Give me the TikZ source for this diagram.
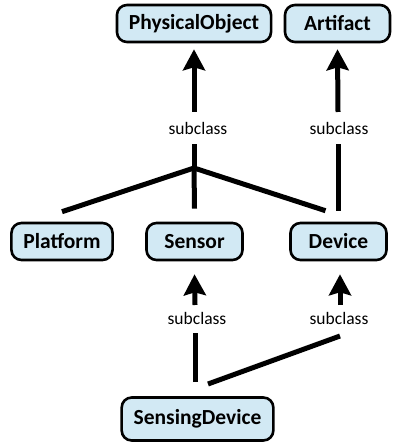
\documentclass[tikz,border=0pt]{standalone}
\usepackage{fontspec}
\setmainfont{Carlito}
\usetikzlibrary{arrows.meta,calc}
\definecolor{boxfill}{HTML}{D2E9F4}
\tikzset{
  cls/.style={draw=black, line width=2.6pt, fill=boxfill, rounded corners=10pt,
    font=\fontsize{21.5}{25}\selectfont\bfseries, inner xsep=12pt, inner ysep=0pt,
    minimum height=37pt, minimum width=96pt},
  rel/.style={font=\fontsize{17.5}{20}\selectfont, inner sep=1pt},
  link/.style={line width=5pt},
  isa/.style={line width=5pt, -{Stealth[length=21pt,width=22pt,inset=3pt]}}
}
\begin{document}
\begin{tikzpicture}[x=1pt,y=-1pt]
  \useasboundingbox (0,0) rectangle (393,443);
  % classes
  \node[cls] (phys) at (194,23.5) {PhysicalObject};
  \node[cls, minimum width=105pt] (art) at (337.5,23.5) {Artifact};
  \node[cls] (plat) at (62,241.5) {Platform};
  \node[cls] (sens) at (194.5,241.5) {Sensor};
  \node[cls] (dev) at (338.5,241.5) {Device};
  \node[cls, minimum height=43pt] (sdev) at (197.5,419) {SensingDevice};
  % relation labels
  \node[rel] (l1) at (198,128) {subclass};
  \node[rel] (l2) at (339,128) {subclass};
  \node[rel] (l3) at (197,318) {subclass};
  \node[rel] (l4) at (339,318) {subclass};
  % branching points
  \coordinate (j1) at (194,168);
  \coordinate (j2) at (195,382);
  \coordinate (j3) at (208,384);
  % upper level
  \draw[isa] (194,112) -- ($(phys.south)+(0,6)$);
  \draw[link] (j1) -- (194,144);
  \draw[link] (j1) -- ($(plat.north)+(0,-10)$);
  \draw[link] (j1) -- ($(sens.north)+(0,-13)$);
  \draw[link] (j1) -- ($(dev.north)+(-13,-11)$);
  \draw[isa] (338,112) -- ($(art.south)+(0,6)$);
  \draw[link] ($(dev.north)+(-0.5,-11)$) -- (338,144);
  % lower level
  \draw[isa] (195,305) -- ($(sens.south)+(0,13)$);
  \draw[link] (j2) -- (195,333);
  \draw[isa] (340,305) -- ($(dev.south)+(1.5,13)$);
  \draw[link] (j3) -- (340,336);
\end{tikzpicture}
\end{document}
